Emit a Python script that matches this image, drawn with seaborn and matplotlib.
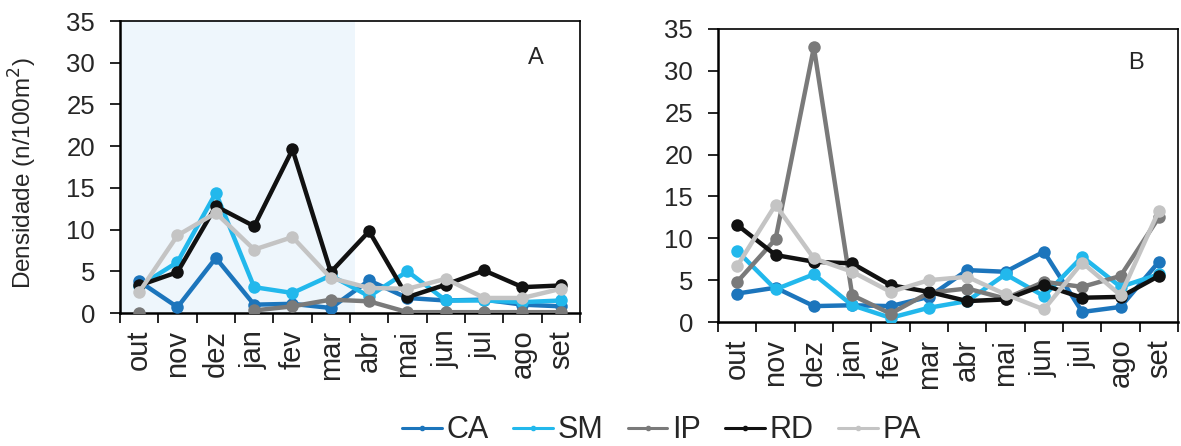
import numpy as np
import pandas as pd
import matplotlib
matplotlib.use("Agg")
import matplotlib.pyplot as plt
from matplotlib.lines import Line2D
import seaborn as sns

months = ["out", "nov", "dez", "jan", "fev", "mar", "abr", "mai", "jun", "jul", "ago", "set"]
series_names = ["CA", "SM", "IP", "RD", "PA"]

# Panel A
A_CA = [3.8, 0.7, 6.6, 1.0, 1.1, 0.6, 3.9, 1.8, 1.5, 1.6, 1.0, 0.8]
A_SM = [3.2, 6.1, 14.4, 3.1, 2.4, 4.5, 2.0, 5.0, 1.5, 1.5, 1.3, 1.5]
A_IP = [0.0, np.nan, np.nan, 0.3, 0.8, 1.6, 1.4, 0.1, 0.1, 0.1, 0.1, 0.1]
A_RD = [3.3, 4.9, 12.8, 10.4, 19.6, 4.9, 9.8, 1.9, 3.4, 5.1, 3.1, 3.3]
A_PA = [2.5, 9.3, 12.0, 7.6, 9.1, 4.2, 3.0, 2.9, 4.1, 1.8, 1.8, 2.9]

# Panel B
B_CA = [3.4, 4.1, 1.9, 2.0, 1.9, 3.0, 6.2, 6.0, 8.4, 1.2, 1.8, 7.2]
B_SM = [8.5, 3.9, 5.7, 2.0, 0.5, 1.7, 2.5, 5.7, 3.1, 7.8, 4.2, 5.7]
B_IP = [4.8, 9.9, 32.8, 3.2, 1.0, 3.5, 4.0, 2.8, 4.8, 4.2, 5.5, 12.5]
B_RD = [11.6, 8.0, 7.2, 7.0, 4.4, 3.6, 2.5, 2.7, 4.4, 2.9, 3.0, 5.5]
B_PA = [6.7, 14.0, 7.6, 6.0, 3.6, 5.0, 5.4, 3.3, 1.5, 7.1, 3.2, 13.3]

colors = {"CA": "#1c75bc", "SM": "#22b8ec", "IP": "#7a7a7a", "RD": "#111111", "PA": "#c4c4c4"}

def long_form(vals):
    rows = []
    for name, arr in zip(series_names, vals):
        seg = 0
        for i, v in enumerate(arr):
            if np.isnan(v):
                seg += 1
                continue
            rows.append({"x": i, "y": v, "series": name, "unit": f"{name}_{seg}"})
    return pd.DataFrame(rows)

dfA = long_form([A_CA, A_SM, A_IP, A_RD, A_PA])
dfB = long_form([B_CA, B_SM, B_IP, B_RD, B_PA])

sns.set_style("white")
plt.rcParams["font.family"] = ["Liberation Sans", "DejaVu Sans"]

fig = plt.figure(figsize=(11.81, 4.46), dpi=100)
axA = fig.add_axes([0.1016, 0.2982, 0.3895, 0.6547])
axB = fig.add_axes([0.6080, 0.2780, 0.3895, 0.6570])

def draw(ax, df, letter, lx, ly, shade):
    if shade:
        ax.axvspan(-0.5, 5.62, color="#eef6fc", zorder=0, lw=0)
    for name in series_names:
        sub = df[df["series"] == name]
        sns.lineplot(data=sub, x="x", y="y", units="unit", estimator=None,
                     color=colors[name], marker="o", markersize=9, linewidth=3.2,
                     markeredgewidth=0, ax=ax, legend=False, zorder=3)
    ax.set_xlim(-0.5, 11.5)
    ax.set_ylim(0, 35)
    ax.set_yticks(range(0, 36, 5))
    ax.set_xticks(range(12))
    ax.set_xticklabels(months, rotation=90)
    ax.set_xticks(np.arange(-0.5, 12, 1), minor=True)
    ax.tick_params(axis="x", which="major", length=0, labelsize=21, pad=12)
    ax.tick_params(axis="x", which="minor", length=7, width=1.4, direction="out", bottom=True)
    ax.tick_params(axis="y", which="major", length=7, width=1.4, direction="out", left=True, labelsize=18.5, pad=11)
    ax.set_xlabel("")
    ax.set_ylabel("")
    for s in ax.spines.values():
        s.set_visible(True)
        s.set_color("black")
        s.set_linewidth(1.2)
    ax.spines["left"].set_linewidth(1.8)
    ax.spines["bottom"].set_linewidth(1.8)
    ax.text(lx, ly, letter, transform=ax.transAxes, fontsize=17, ha="center", va="center")

draw(axA, dfA, "A", 0.905, 0.875, True)
draw(axB, dfB, "B", 0.909, 0.885, False)

axA.set_ylabel("Densidade (n/100m$^2$)", fontsize=17.5)
axA.yaxis.set_label_coords(-0.175, 0.48)

handles = [Line2D([0], [0], color=colors[n], lw=2.2, marker="o", markersize=3) for n in series_names]
fig.legend(handles, series_names, loc="center", bbox_to_anchor=(0.56, 0.035), ncol=5,
           frameon=False, fontsize=22, handlelength=1.3, handletextpad=0.15, columnspacing=0.8)

fig.savefig("out.png", dpi=100)
